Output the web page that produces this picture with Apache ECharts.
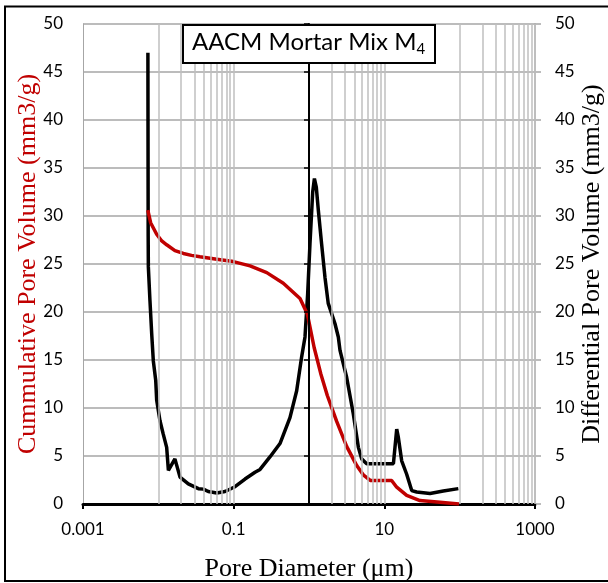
<!DOCTYPE html>
<html>
<head>
<meta charset="utf-8">
<script src="https://cdn.jsdelivr.net/npm/echarts@6/dist/echarts.min.js"></script>
<style>html,body{margin:0;padding:0;background:#fff}#c{width:608px;height:583px}</style>
</head>
<body>
<div id="c"></div>
<script>
// ---- data ----
const cumDiameter = [0.00725,0.0079,0.0095,0.0111,0.0129,0.0166,0.0215,0.0276,0.0357,0.0596,0.099,0.165,0.275,0.456,0.76,0.95,1.17,1.43,1.75,2.33,3.16,4.30,5.3,6.5,12.5,14.6,19.8,29.7,54.8,98];
const cumVolume   = [30.6,29.3,28.1,27.4,27.0,26.4,26.1,25.9,25.75,25.5,25.25,24.8,24.1,23.0,21.4,19.8,16.3,13.6,11.3,8.6,6.0,4.0,3.0,2.45,2.45,1.75,0.9,0.36,0.19,0];
const diffDiameter = [0.00727,0.00733,0.00737,0.00774,0.00817,0.00858,0.00923,0.00951,0.0105,0.0116,0.0129,0.0136,0.0166,0.0194,0.0250,0.0340,0.0396,0.0460,0.0596,0.0768,0.1042,0.1415,0.192,0.224,0.303,0.412,0.559,0.686,0.798,0.885,0.96,1.03,1.12,1.18,1.25,1.33,1.47,1.63,1.80,2.21,2.45,2.58,3.16,3.87,4.52,5.0,5.83,13.2,14.6,15.3,17.0,19.8,23.1,26.9,40.4,60.6,96];
const diffVolume   = [47.0,28.0,24.7,21.2,17.7,14.9,12.9,10.8,8.7,7.3,5.9,3.5,4.7,2.8,2.1,1.6,1.55,1.3,1.15,1.3,1.8,2.6,3.3,3.6,4.9,6.3,9.0,11.8,15.3,17.4,21.9,27.1,32.5,33.9,33.0,30.6,27.1,23.6,20.9,18.8,17.4,16.0,13.2,9.4,5.9,4.7,4.2,4.2,7.8,7.0,4.5,3.1,1.4,1.25,1.1,1.35,1.6];
const xTickValues = [0.001, 0.1, 10, 1000];
const xTickLabels = ['0.001', '0.1', '10', '1000'];
const xGridValues = [0.01,0.02,0.03,0.04,0.05,0.06,0.07,0.08,0.09,0.1,2,3,4,5,6,7,8,9,10,100,200,300,400,500,600,700,800,900,1000];
const yMin = 0, yMax = 50, yStep = 5;
const titleMain = 'AACM Mortar Mix M';
const titleSub = '4';

const zip = (a, b) => a.map((v, i) => [v, b[i]]);

const chart = echarts.init(document.getElementById('c'), null, {renderer: 'canvas'});
const labelFont = {fontFamily: 'Lato', fontSize: 17, color: '#000'};
const serif = 'Liberation Serif';
const gridLeft = 83, gridRight = 73;
const gridW = 608 - gridLeft - gridRight;

chart.setOption({
  animation: false,
  backgroundColor: '#fff',
  title: {
    text: '{a|' + titleMain + '}{b|' + titleSub + '}',
    left: 183, top: 22,
    padding: [5, 10, 6, 9],
    backgroundColor: '#fff',
    borderColor: '#000',
    borderWidth: 2,
    textStyle: {
      fontWeight: 'normal',
      rich: {
        a: {fontFamily: 'Lato', fontSize: 24, fontWeight: 'normal', color: '#000', lineHeight: 30},
        b: {fontFamily: 'Lato', fontSize: 15, fontWeight: 'normal', color: '#000', lineHeight: 16, verticalAlign: 'bottom'}
      }
    },
    z: 10
  },
  graphic: [{
    type: 'rect', shape: {x: 5, y: 6.5, width: 610, height: 574.5},
    style: {fill: 'none', stroke: '#000', lineWidth: 2}, silent: true, z: 100
  }],
  grid: {left: gridLeft, right: gridRight, top: 24, bottom: 79, containLabel: false, outerBoundsMode: 'none'},
  xAxis: {
    type: 'log', logBase: 10, min: 0.001, max: 1000,
    axisLine: {show: true, lineStyle: {color: '#000', width: 3}},
    axisTick: {show: true, customValues: xTickValues, length: 5, lineStyle: {color: '#000', width: 2}},
    axisLabel: {
      show: true, customValues: xTickValues, margin: 17, ...labelFont,
      formatter: v => {
        for (let i = 0; i < xTickValues.length; i++) {
          if (Math.abs(Math.log10(v) - Math.log10(xTickValues[i])) < 1e-6) return xTickLabels[i];
        }
        return '';
      }
    },
    splitLine: {show: false}, minorTick: {show: false}, minorSplitLine: {show: false},
    name: 'Pore Diameter (μm)', nameLocation: 'middle', nameGap: 52, nameMoveOverlap: false,
    nameTextStyle: {fontFamily: serif, fontSize: 26, color: '#000'}
  },
  yAxis: [{
    type: 'value', min: yMin, max: yMax, interval: yStep, position: 'left',
    axisLine: {show: true, lineStyle: {color: '#A6A6A6', width: 1}},
    axisTick: {show: false},
    axisLabel: {margin: 20, ...labelFont},
    splitLine: {show: true, lineStyle: {color: '#A6A6A6', width: 1.5}},
    name: 'Cummulative Pore Volume (mm3/g)', nameLocation: 'middle', nameGap: 42, nameRotate: 90, nameMoveOverlap: false,
    nameTextStyle: {fontFamily: serif, fontSize: 26, color: '#C00000'}
  }, {
    type: 'value', min: yMin, max: yMax, interval: yStep, position: 'right',
    axisLine: {show: true, lineStyle: {color: '#A6A6A6', width: 1.5}},
    axisTick: {show: true, length: 6, lineStyle: {color: '#A6A6A6', width: 1.5}},
    axisLabel: {margin: 20, ...labelFont},
    splitLine: {show: false},
    name: 'Differential Pore Volume (mm3/g)', nameLocation: 'middle', nameGap: 44, nameRotate: 90, nameMoveOverlap: false,
    nameTextStyle: {fontFamily: serif, fontSize: 26, color: '#000'}
  }, {
    type: 'value', min: yMin, max: yMax, interval: yStep, position: 'left',
    offset: -gridW / 2, z: 5,
    axisLine: {show: true, onZero: false, lineStyle: {color: '#000', width: 2}},
    axisTick: {show: true, length: 5, lineStyle: {color: '#000', width: 1.5}},
    axisLabel: {show: false},
    splitLine: {show: false}
  }],
  series: [{
    type: 'line', data: [], z: 1, silent: true,
    markLine: {
      silent: true, symbol: ['none', 'none'], label: {show: false},
      lineStyle: {color: '#BFBFBF', width: 1.5, type: 'solid'},
      data: xGridValues.map(v => ({xAxis: v}))
    }
  }, {
    name: 'Differential', type: 'line', yAxisIndex: 1, z: 3,
    data: zip(diffDiameter, diffVolume),
    showSymbol: false, symbol: 'none',
    lineStyle: {color: '#000', width: 3.5}
  }, {
    name: 'Cumulative', type: 'line', yAxisIndex: 0, z: 4,
    data: zip(cumDiameter, cumVolume),
    showSymbol: false, symbol: 'none',
    lineStyle: {color: '#C00000', width: 3.5}
  }]
});
</script>
</body>
</html>
